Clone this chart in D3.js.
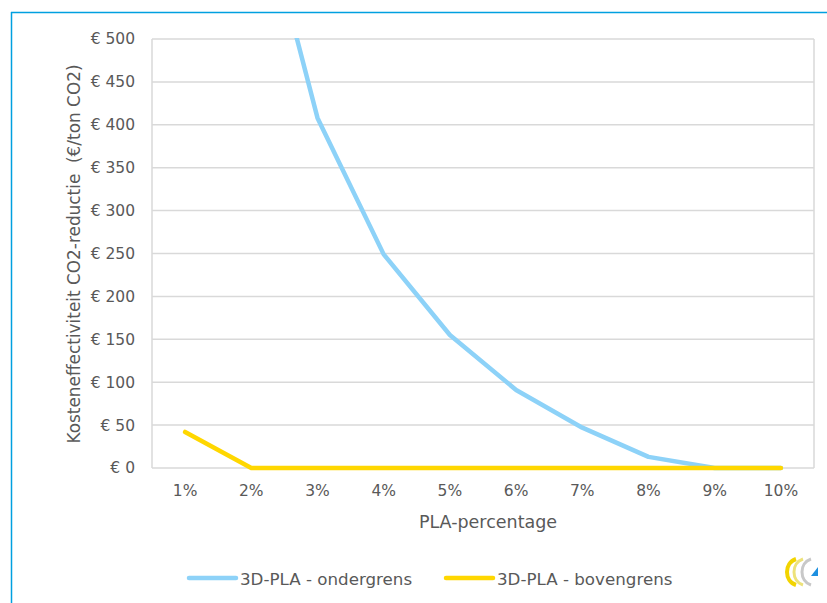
<!DOCTYPE html>
<html><head><meta charset="utf-8">
<script src="https://cdn.jsdelivr.net/npm/d3@7"></script>
<style>body{margin:0;background:#fff;} svg{display:block;}</style>
</head><body>
<script>
const categories = ["1%","2%","3%","4%","5%","6%","7%","8%","9%","10%"];
const ondergrens = [1500, 705, 408, 249, 155, 91, 47, 13, 0, 0];
const bovengrens = [42, 0, 0, 0, 0, 0, 0, 0, 0, 0];
const yTicks = [0,50,100,150,200,250,300,350,400,450,500];
const seriesNames = ["3D-PLA - ondergrens","3D-PLA - bovengrens"];
const colors = ["#8DD2F8","#FFD700"];

const W=827,H=603;
const svg=d3.select("body").append("svg").attr("width",W).attr("height",H);
const font="'DejaVu Sans', sans-serif";
const fs=15.5, tc="#595959";
// frame
svg.append("line").attr("x1",11).attr("x2",W).attr("y1",12.5).attr("y2",12.5).attr("stroke","#00A0E0").attr("stroke-width",1.5);
svg.append("line").attr("x1",11.5).attr("x2",11.5).attr("y1",12).attr("y2",H).attr("stroke","#00A0E0").attr("stroke-width",1.5);

const L=152,R=814,T=39,B=468;
const x=d3.scaleBand().domain(categories).range([L,R]);
const y=d3.scaleLinear().domain([0,500]).range([B,T]);

// gridlines
svg.append("g").selectAll("line").data(yTicks).join("line")
 .attr("x1",L).attr("x2",R).attr("y1",d=>y(d)).attr("y2",d=>y(d))
 .attr("stroke","#D9D9D9").attr("stroke-width",1.5);
svg.append("line").attr("x1",L).attr("x2",L).attr("y1",T).attr("y2",B).attr("stroke","#D9D9D9").attr("stroke-width",1.5);
svg.append("line").attr("x1",R).attr("x2",R).attr("y1",T).attr("y2",B).attr("stroke","#D9D9D9").attr("stroke-width",1.5);

// y axis labels
const yAxis=d3.axisLeft(y).tickValues(yTicks).tickSize(0).tickPadding(17).tickFormat(d=>"€ "+d);
const gy=svg.append("g").attr("transform",`translate(${L},0)`).call(yAxis);
gy.select(".domain").remove();
gy.selectAll("text").attr("font-family",font).attr("font-size",fs).attr("fill",tc);

const xAxis=d3.axisBottom(x).tickSize(0).tickPadding(17);
const gx=svg.append("g").attr("transform",`translate(0,${B})`).call(xAxis);
gx.select(".domain").remove();
gx.selectAll("text").attr("font-family",font).attr("font-size",fs).attr("fill",tc);

// clip
svg.append("clipPath").attr("id","clip").append("rect").attr("x",L).attr("y",T-1).attr("width",R-L).attr("height",B-T+10);
const line=d3.line().x((d,i)=>x(categories[i])+x.bandwidth()/2).y(d=>y(d));
const g=svg.append("g").attr("clip-path","url(#clip)");
[ondergrens,bovengrens].forEach((s,i)=>{
 g.append("path").attr("d",line(s)).attr("fill","none").attr("stroke",colors[i]).attr("stroke-width",4.5).attr("stroke-linejoin","round").attr("stroke-linecap","round");
});

// axis titles
svg.append("text").attr("x",488).attr("y",528).attr("text-anchor","middle").attr("font-family",font).attr("font-size",17.5).attr("fill",tc).text("PLA-percentage");
svg.append("text").attr("transform","translate(80,254) rotate(-90)").attr("text-anchor","middle").attr("font-family",font).attr("font-size",16.9).attr("fill",tc).attr("xml:space","preserve").text("Kosteneffectiviteit CO2-reductie  (€/ton CO2)");

// legend
const leg=[{x:189,name:seriesNames[0],c:colors[0]},{x:446,name:seriesNames[1],c:colors[1]}];
leg.forEach(l=>{
 svg.append("line").attr("x1",l.x).attr("x2",l.x+47).attr("y1",578).attr("y2",578).attr("stroke",l.c).attr("stroke-width",4.5).attr("stroke-linecap","round");
 svg.append("text").attr("x",l.x+51).attr("y",585).attr("font-family",font).attr("font-size",16.7).attr("fill",tc).text(l.name);
});

// logo
const lg=svg.append("g").attr("transform","translate(800,572)");
lg.append("path").attr("d","M-4,-13 C-16,-9 -16,9 -4,13").attr("fill","none").attr("stroke","#F2D400").attr("stroke-width",4);
lg.append("path").attr("d","M3,-13 C-9,-9 -9,9 3,13").attr("fill","none").attr("stroke","#EDE27A").attr("stroke-width",3);
lg.append("path").attr("d","M11,-13 C-1,-9 -1,9 11,13").attr("fill","none").attr("stroke","#C8C8C8").attr("stroke-width",3);
lg.append("path").attr("d","M11,4 L18,-5 L18,4 Z").attr("fill","#1E90E0");
</script>
</body></html>
